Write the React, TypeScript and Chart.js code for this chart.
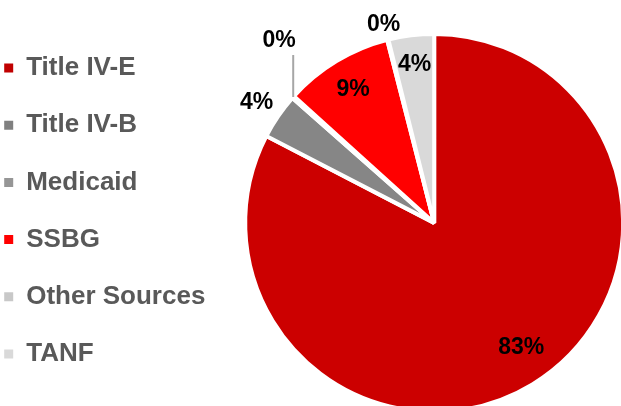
import { useEffect, useRef } from 'react';
import { Chart, ArcElement, PieController, Legend } from 'chart.js';

Chart.register(ArcElement, PieController, Legend);

// ---- data ----
const categories = ['Title IV-E', 'Title IV-B', 'Medicaid', 'SSBG', 'Other Sources', 'TANF'];
const shares = [82.6, 3.9, 0.2, 9.3, 0.1, 3.9];

// ---- styles ----
const sliceColors = ['#CC0000', '#868686', '#969696', '#FF0000', '#C8C8C8', '#D9D9D9'];
const legendColors = ['#C00000', '#808080', '#969696', '#FF0000', '#C8C8C8', '#D9D9D9'];
const FONT = '"Liberation Sans", Arial, Helvetica, sans-serif';

// label placement: radial factor of outer radius (+ optional angle shift in degrees), or a leader line
const labelPlacement: { r?: number; da?: number; leader?: number; dx?: number; dy?: number }[] = [
  { r: 0.8, da: -3.8 },
  { r: 1.138 },
  { leader: 42, dx: -14, dy: 15 },
  { r: 0.83 },
  { r: 1.09 },
  { r: 0.847 },
];

const sliceLabels = {
  id: 'sliceLabels',
  afterDatasetsDraw(chart: any) {
    const meta = chart.getDatasetMeta(0);
    const ctx = chart.ctx as CanvasRenderingContext2D;
    const data = chart.data.datasets[0].data as number[];
    const total = data.reduce((a, b) => a + b, 0);
    ctx.save();
    ctx.font = `bold 23px ${FONT}`;
    ctx.fillStyle = '#000000';
    ctx.textAlign = 'center';
    ctx.textBaseline = 'middle';
    meta.data.forEach((arc: any, i: number) => {
      const { x, y, startAngle, endAngle, outerRadius } = arc.getProps(
        ['x', 'y', 'startAngle', 'endAngle', 'outerRadius'],
        true
      );
      const p = labelPlacement[i];
      const mid = (startAngle + endAngle) / 2 + ((p.da || 0) * Math.PI) / 180;
      const text = Math.round((data[i] / total) * 100) + '%';
      if (p.leader) {
        const ex = x + Math.cos(mid) * outerRadius;
        const ey = y + Math.sin(mid) * outerRadius;
        ctx.strokeStyle = '#A6A6A6';
        ctx.lineWidth = 2;
        ctx.beginPath();
        ctx.moveTo(ex, ey);
        ctx.lineTo(ex, ey - p.leader);
        ctx.stroke();
        ctx.fillText(text, ex + (p.dx || 0), ey - p.leader - (p.dy || 0) + 1);
      } else {
        const r = outerRadius * (p.r || 1);
        ctx.fillText(text, x + Math.cos(mid) * r, y + Math.sin(mid) * r + 1);
      }
    });
    ctx.restore();
  },
};

export default function App() {
  const canvasRef = useRef<HTMLCanvasElement | null>(null);

  useEffect(() => {
    document.body.style.margin = '0';
    document.body.style.overflow = 'hidden';
    const canvas = canvasRef.current;
    if (!canvas) return;
    const chart = new Chart(canvas, {
      type: 'pie',
      data: {
        labels: categories,
        datasets: [
          {
            data: shares,
            backgroundColor: sliceColors,
            borderColor: '#FFFFFF',
            borderWidth: 4,
          },
        ],
      },
      options: {
        responsive: false,
        animation: false,
        devicePixelRatio: 1,
        radius: 189,
        layout: { padding: { left: -27, right: 0, top: 23.8, bottom: 0 } },
        plugins: {
          tooltip: { enabled: false },
          legend: {
            position: 'left',
            align: 'start',
            labels: {
              boxWidth: 9,
              boxHeight: 9,
              padding: 31.2,
              color: '#595959',
              font: { family: FONT, size: 26, weight: 'bold' },
              generateLabels: () =>
                categories.map((c, i) => ({
                  text: c,
                  fillStyle: legendColors[i],
                  strokeStyle: 'rgba(0,0,0,0)',
                  lineWidth: 0,
                  hidden: false,
                  index: i,
                  fontColor: '#595959',
                })),
            },
          },
        },
      },
      plugins: [sliceLabels],
    });
    return () => chart.destroy();
  }, []);

  return (
    <div style={{ width: 621, height: 406, overflow: 'hidden' }}>
      <canvas ref={canvasRef} width={653} height={422} style={{ display: 'block' }} />
    </div>
  );
}
